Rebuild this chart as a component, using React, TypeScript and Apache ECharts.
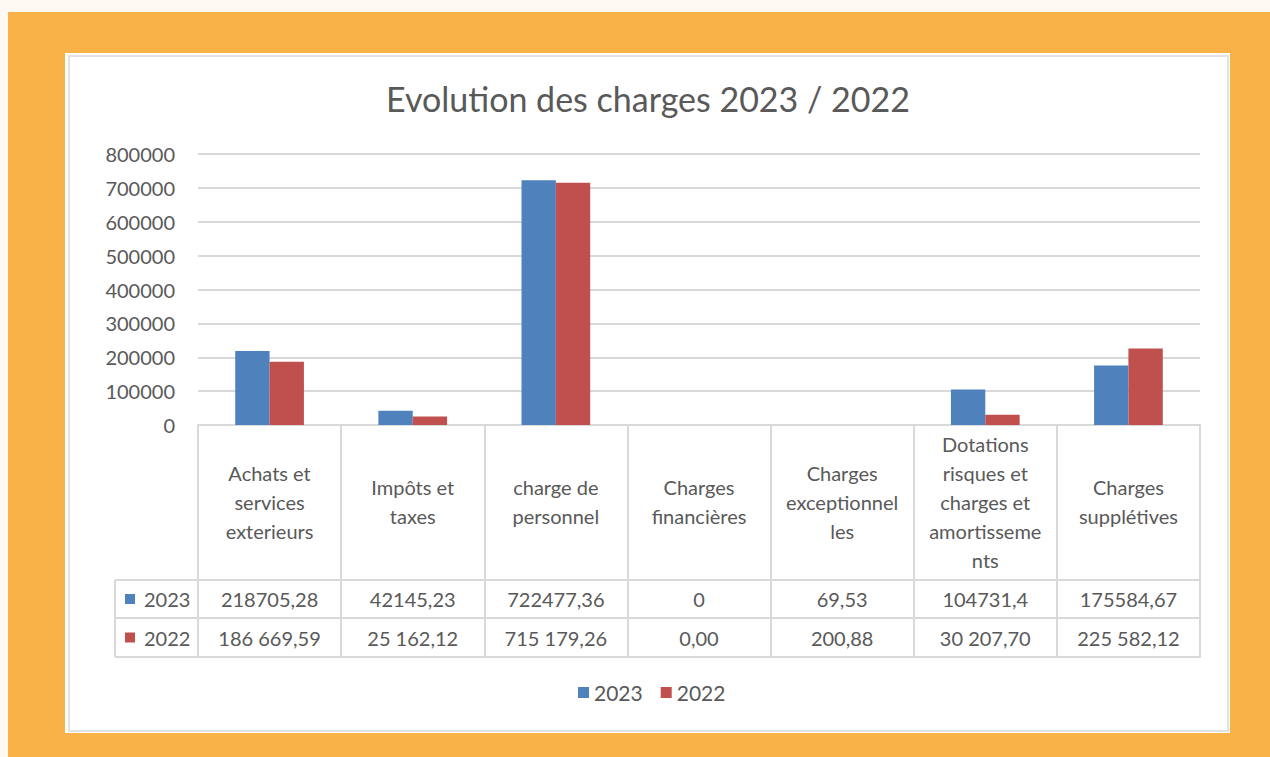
import React, { useEffect, useRef } from "react";
import * as echarts from "echarts";

const categories = [
  "Achats et\nservices\nexterieurs",
  "Impôts et\ntaxes",
  "charge de\npersonnel",
  "Charges\nfinancières",
  "Charges\nexceptionnel\nles",
  "Dotations\nrisques et\ncharges et\namortisseme\nnts",
  "Charges\nsupplétives",
];
const seriesNames = ["2023", "2022"];
const values2023 = [218705.28, 42145.23, 722477.36, 0, 69.53, 104731.4, 175584.67];
const values2022 = [186669.59, 25162.12, 715179.26, 0, 200.88, 30207.7, 225582.12];
const labels2023 = ["218705,28", "42145,23", "722477,36", "0", "69,53", "104731,4", "175584,67"];
const labels2022 = ["186 669,59", "25 162,12", "715 179,26", "0,00", "200,88", "30 207,70", "225 582,12"];
const colors = ["#4F81BD", "#C0504D"];
const yTicks = { min: 0, max: 800000, interval: 100000 };

const FONT = "Lato, 'Noto Sans', sans-serif";
const TXT = "#595959";
const LINE = "#D9D9D9";

export default function App() {
  const ref = useRef<HTMLDivElement>(null);

  useEffect(() => {
    if (!ref.current) return;
    const chart = echarts.init(ref.current, undefined, { renderer: "svg" });

    const gridLeft = 198;
    const gridRight = 1200;
    const gridTop = 154;
    const gridBottomY = 425;
    const row1 = 580;
    const row2 = 618;
    const row3 = 657;
    const keyLeft = 115;

    const tableGraphics: any[] = [];
    [row1, row2, row3].forEach((y) => {
      tableGraphics.push({
        type: "line",
        shape: { x1: keyLeft, y1: y, x2: gridLeft, y2: y },
        style: { stroke: LINE, lineWidth: 2 },
      });
    });
    tableGraphics.push({
      type: "line",
      shape: { x1: keyLeft, y1: row1, x2: keyLeft, y2: row3 },
      style: { stroke: LINE, lineWidth: 2 },
    });
    const rowCenters = [(row1 + row2) / 2, (row2 + row3) / 2];
    seriesNames.forEach((name, i) => {
      tableGraphics.push({
        type: "rect",
        shape: { x: 125, y: rowCenters[i] - 5, width: 10, height: 10 },
        style: { fill: colors[i] },
      });
      tableGraphics.push({
        type: "text",
        x: 144,
        y: rowCenters[i],
        style: {
          text: name,
          fill: TXT,
          font: `20px ${FONT}`,
          textVerticalAlign: "middle",
          verticalAlign: "middle",
        },
      });
    });

    const baseCatAxis = {
      type: "category",
      position: "bottom",
      gridIndex: 0,
      boundaryGap: true,
      axisLine: { show: true, lineStyle: { color: LINE, width: 2 } },
      axisTick: { show: false },
      splitLine: { show: false },
    };

    chart.setOption({
      animation: false,
      backgroundColor: "transparent",
      title: {
        text: "Evolution des charges 2023 / 2022",
        left: 643,
        top: 76,
        textAlign: "center",
        textStyle: { color: TXT, fontFamily: FONT, fontSize: 34, fontWeight: "normal" },
      },
      legend: {
        data: seriesNames,
        left: 578,
        top: 682,
        padding: 0,
        itemWidth: 11,
        itemHeight: 11,
        itemGap: 18,
        icon: "rect",
        textStyle: { color: TXT, fontFamily: FONT, fontSize: 21 },
      },
      grid: {
        left: gridLeft,
        right: 1270 - gridRight,
        top: gridTop,
        bottom: 757 - gridBottomY,
        containLabel: false,
      },
      xAxis: [
        {
          ...baseCatAxis,
          data: categories,
          axisTick: {
            show: true,
            interval: 0,
            length: row3 - gridBottomY,
            lineStyle: { color: LINE, width: 2 },
          },
          axisLabel: {
            interval: 0,
            margin: (row1 - gridBottomY) / 2 - 1,
            verticalAlign: "middle",
            align: "center",
            color: TXT,
            fontFamily: FONT,
            fontSize: 20,
            lineHeight: 29,
          },
        },
        {
          ...baseCatAxis,
          offset: row1 - gridBottomY,
          data: labels2023,
          axisLabel: {
            interval: 0,
            margin: (row2 - row1) / 2,
            verticalAlign: "middle",
            color: TXT,
            fontFamily: FONT,
            fontSize: 20,
          },
        },
        {
          ...baseCatAxis,
          offset: row2 - gridBottomY,
          data: labels2022,
          axisLabel: {
            interval: 0,
            margin: (row3 - row2) / 2,
            verticalAlign: "middle",
            color: TXT,
            fontFamily: FONT,
            fontSize: 20,
          },
        },
        {
          ...baseCatAxis,
          offset: row3 - gridBottomY,
          data: categories,
          axisLabel: { show: false },
        },
      ],
      yAxis: {
        type: "value",
        min: yTicks.min,
        max: yTicks.max,
        interval: yTicks.interval,
        axisLine: { show: false },
        axisTick: { show: false },
        splitLine: { show: true, lineStyle: { color: LINE, width: 2 } },
        axisLabel: {
          color: TXT,
          fontFamily: FONT,
          fontSize: 20,
          margin: 23,
          formatter: (v: number) => String(v),
        },
      },
      series: [
        {
          name: seriesNames[0],
          type: "bar",
          xAxisIndex: 0,
          data: values2023,
          itemStyle: { color: colors[0] },
          barGap: "0%",
          barCategoryGap: "52%",
        },
        {
          name: seriesNames[1],
          type: "bar",
          xAxisIndex: 0,
          data: values2022,
          itemStyle: { color: colors[1] },
          barGap: "0%",
          barCategoryGap: "52%",
        },
      ],
      graphic: tableGraphics,
    });

    return () => {
      chart.dispose();
    };
  }, []);

  return (
    <div
      style={{
        position: "fixed",
        left: 0,
        top: 0,
        width: 1270,
        height: 757,
        background: "#FEF8F3",
        overflow: "hidden",
      }}
    >
      <div
        style={{
          position: "absolute",
          left: 8,
          top: 12,
          width: 1262,
          height: 745,
          background: "#F9B248",
        }}
      />
      <div
        style={{
          position: "absolute",
          left: 65,
          top: 53,
          width: 1165,
          height: 680,
          background: "#FFFFFF",
        }}
      >
        <div
          style={{
            position: "absolute",
            left: 3,
            top: 2,
            right: 1,
            bottom: 1,
            border: "2px solid #E2E2E2",
            boxSizing: "border-box",
          }}
        />
      </div>
      <div
        ref={ref}
        style={{ position: "absolute", left: 0, top: 0, width: 1270, height: 757 }}
      />
    </div>
  );
}
